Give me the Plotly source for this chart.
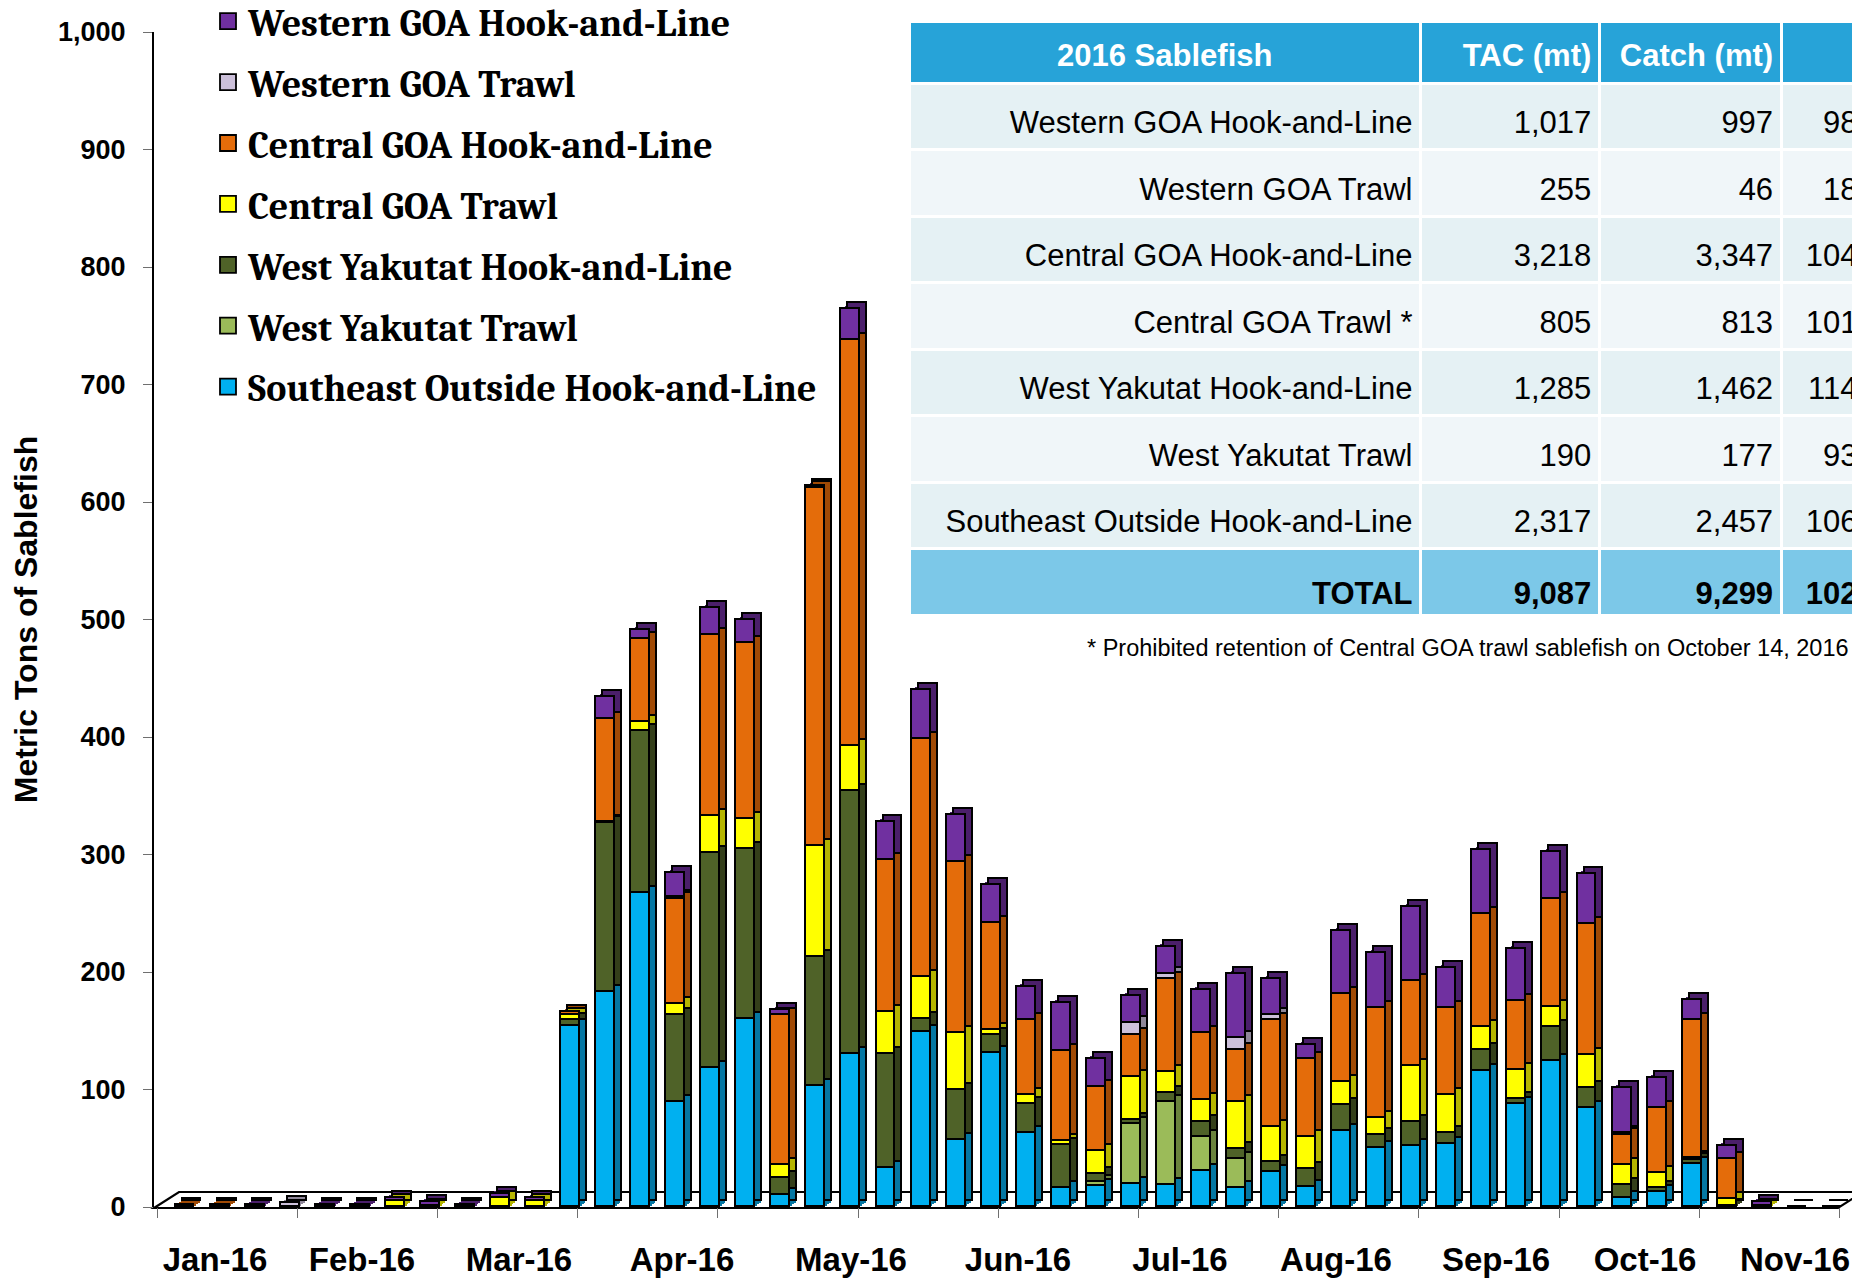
import plotly.graph_objects as go

# ---------------- data ----------------
weeks = list(range(48))  # weekly categories, Jan-16 .. Nov-16
month_labels = ["Jan-16", "Feb-16", "Mar-16", "Apr-16", "May-16", "Jun-16",
                "Jul-16", "Aug-16", "Sep-16", "Oct-16", "Nov-16"]

southeast_hal = [0, 0, 0, 0, 0, 0, 0, 0, 0, 0, 0,
                 154, 183, 267, 89, 118, 160, 10, 103, 130, 33,
                 149, 57, 131, 63, 16, 18, 20, 19, 31, 16,
                 30, 17, 65, 50, 52, 54, 116, 88, 124, 84,
                 8, 13, 37, 0, 0, 0, 0]
west_yakutat_trawl = [0, 0, 0, 0, 0, 0, 0, 0, 0, 0, 0,
                      0, 0, 0, 0, 0, 0, 0, 0, 0, 0,
                      0, 0, 0, 0, 0, 3, 51, 70, 29, 25,
                      0, 0, 0, 0, 0, 0, 0, 0, 0, 0,
                      0, 0, 0, 0, 0, 0, 0]
west_yakutat_hal = [0, 0, 0, 0, 0, 0, 0, 0, 0, 0, 0,
                    5, 144, 138, 74, 183, 145, 15, 110, 224, 97,
                    11, 43, 15, 25, 37, 7, 3, 8, 12, 8,
                    8, 15, 22, 11, 20, 9, 18, 4, 29, 17,
                    11, 3, 3, 1, 0, 0, 0]
central_goa_trawl = [0, 0, 0, 0, 0, 0, 5, 1, 0, 8, 5,
                     4, 1, 8, 10, 32, 25, 11, 94, 38, 36,
                     36, 48, 5, 7, 3, 20, 37, 18, 19, 40,
                     30, 28, 19, 15, 48, 32, 19, 25, 17, 28,
                     17, 13, 2, 6, 1, 0, 0]
central_goa_hal = [2, 2, 0, 0, 0, 0, 0, 0, 0, 0, 0,
                   3, 87, 70, 89, 154, 150, 127, 305, 346, 129,
                   202, 146, 91, 64, 77, 54, 35, 79, 57, 45,
                   91, 66, 75, 93, 72, 74, 96, 58, 92, 112,
                   25, 55, 117, 34, 0, 0, 0]
western_goa_trawl = [0, 0, 0, 3, 0, 0, 0, 0, 0, 0, 0,
                     0, 0, 0, 2, 0, 0, 0, 0, 0, 0,
                     0, 0, 0, 0, 0, 0, 11, 4, 0, 10,
                     4, 0, 0, 0, 0, 0, 0, 0, 0, 0,
                     2, 0, 0, 0, 0, 0, 0]
western_goa_hal = [0, 0, 2, 0, 2, 2, 3, 3, 2, 3, 3,
                   0, 19, 8, 20, 23, 20, 5, 2, 26, 33,
                   42, 40, 32, 28, 41, 24, 23, 23, 37, 54,
                   31, 12, 54, 47, 63, 34, 55, 45, 40, 42,
                   38, 26, 17, 11, 3, 0, 0]

# bottom -> top stacking order
series_names = ["Southeast Outside Hook-and-Line", "West Yakutat Trawl",
                "West Yakutat Hook-and-Line", "Central GOA Trawl",
                "Central GOA Hook-and-Line", "Western GOA Trawl",
                "Western GOA Hook-and-Line"]
series_values = [southeast_hal, west_yakutat_trawl, west_yakutat_hal,
                 central_goa_trawl, central_goa_hal, western_goa_trawl,
                 western_goa_hal]
front_colors = ["#00b0f0", "#9bbb59", "#4f6228", "#ffff00", "#e46c0a", "#ccc0da", "#7030a0"]
side_colors = ["#0577a3", "#6b833d", "#343f1a", "#b5b500", "#a04a05", "#8f8799", "#4b1f6b"]

# table
table_header = ["<b>2016 Sablefish</b>", "<b>TAC (mt)</b>", "<b>Catch (mt)</b>", "<b>%</b>"]
table_fishery = ["Western GOA Hook-and-Line", "Western GOA Trawl", "Central GOA Hook-and-Line",
                 "Central GOA Trawl *", "West Yakutat Hook-and-Line", "West Yakutat Trawl",
                 "Southeast Outside Hook-and-Line", "<b>TOTAL</b>"]
table_tac = ["1,017", "255", "3,218", "805", "1,285", "190", "2,317", "<b>9,087</b>"]
table_catch = ["997", "46", "3,347", "813", "1,462", "177", "2,457", "<b>9,299</b>"]
table_pct = ["98%", "18%", "104%", "101%", "114%", "93%", "106%", "<b>102%</b>"]
footnote = "* Prohibited retention of Central GOA trawl sablefish on October 14, 2016"

# ---------------- geometry ----------------
W, H = 1900, 1284
PX0, PX1 = 154, 1852          # plot area (pixels)
PY_TOP, PY_BOT = 32, 1207
BAR0, STEP = 185, 35.05       # pixel of first week, pixels per week


def xval(px):
    return (px - BAR0) / STEP


xr = [xval(PX0), xval(PX1)]
yr = [0, 1000]
ppu = (PY_BOT - PY_TOP) / (yr[1] - yr[0])
dx = 7 / STEP                 # depth offset of side faces
dy = 6 / ppu
xdom = [PX0 / W, PX1 / W]
ydom = [1 - PY_BOT / H, 1 - PY_TOP / H]

month_tick_pos = [xval(157) + 4 * k for k in range(13)]
label_px = [215, 362, 519, 682, 851, 1018, 1180, 1336, 1496, 1645, 1795]
month_label_pos = [xval(p) for p in label_px]

FONT = "Arial, Liberation Sans, sans-serif"
LEGEND_FONT = "Cambria, Caladea, DejaVu Serif, serif"

fig = go.Figure()

# empty trace so the main (tick-carrying) axes are drawn
fig.add_trace(go.Scatter(x=[], y=[], xaxis="x", yaxis="y", showlegend=False,
                         hoverinfo="skip"))

hidden = dict(visible=False, showgrid=False, zeroline=False, fixedrange=True)
extra_axes = {}

# depth faces: the stack swept back in a few steps, last step outlined
depth_steps = [0.25, 0.5, 0.75, 1.0]
for j, f in enumerate(depth_steps):
    aid = j + 2
    extra_axes["xaxis%d" % aid] = dict(hidden, overlaying="x", domain=xdom,
                                       range=[xr[0] - dx * f, xr[1] - dx * f], anchor="y%d" % aid)
    extra_axes["yaxis%d" % aid] = dict(hidden, overlaying="y", domain=ydom,
                                       range=[yr[0] - dy * f, yr[1] - dy * f], anchor="x%d" % aid)
    lw = 1.6 if f == 1.0 else 0
    for name, vals, col in zip(series_names, series_values, side_colors):
        fig.add_trace(go.Bar(x=weeks, y=vals, name=name, xaxis="x%d" % aid, yaxis="y%d" % aid,
                             marker=dict(color=col, line=dict(color="black", width=lw)),
                             width=0.54, showlegend=False, hoverinfo="skip"))

# front faces
fid = len(depth_steps) + 2
extra_axes["xaxis%d" % fid] = dict(hidden, overlaying="x", domain=xdom, range=xr, anchor="y%d" % fid)
extra_axes["yaxis%d" % fid] = dict(hidden, overlaying="y", domain=ydom, range=yr, anchor="x%d" % fid)
for name, vals, col in zip(series_names, series_values, front_colors):
    fig.add_trace(go.Bar(x=weeks, y=vals, name=name, xaxis="x%d" % fid, yaxis="y%d" % fid,
                         marker=dict(color=col, line=dict(color="black", width=1.6)),
                         width=0.54, legendgroup=name, showlegend=False))
# legend entries (larger square swatches)
n = len(series_names)
for k, (name, col) in enumerate(zip(series_names, front_colors)):
    fig.add_trace(go.Scatter(x=[None], y=[None], mode="markers", name=name,
                             xaxis="x%d" % fid, yaxis="y%d" % fid, legendgroup=name,
                             legendrank=n - k,
                             marker=dict(symbol="square", size=17, color=col,
                                         line=dict(color="black", width=1.8))))

# table: fill layer + text layer (text layer offset for vertical centring)
row_fill = ["#e5f1f4", "#f0f6f9", "#e5f1f4", "#f0f6f9", "#e5f1f4", "#f0f6f9", "#e5f1f4", "#7cc8e8"]
tbl_x = [909 / W, 1894 / W]
colw = [512, 179, 182, 112]
clear = "rgba(0,0,0,0)"
blank_cols = [[""] * len(table_fishery) for _ in table_header]
fig.add_trace(go.Table(
    domain=dict(x=tbl_x, y=[1 - 630 / H, 1 - 21 / H]),
    columnwidth=colw,
    header=dict(values=[""] * len(table_header), fill_color="#27a3d8", height=62,
                font=dict(size=31, family=FONT),
                line=dict(color="white", width=3)),
    cells=dict(values=blank_cols, fill_color=[row_fill] * 4, height=66.5,
               font=dict(size=31, family=FONT),
               line=dict(color="white", width=3)),
))
fig.add_trace(go.Table(
    domain=dict(x=tbl_x, y=[1 - 720 / H, 1 - 30 / H]),
    columnwidth=colw,
    header=dict(values=table_header, fill_color=clear,
                font=dict(color="white", size=31, family=FONT),
                align=["center", "right", "right", "right"], height=72,
                line=dict(color=clear, width=3)),
    cells=dict(values=[table_fishery, table_tac, table_catch, table_pct],
               fill_color=clear,
               font=dict(color="black", size=31, family=FONT),
               align="right", height=66.5,
               line=dict(color=clear, width=3)),
))

# floor of the 3-D chart
fx0, fx1, fdx = PX0, 1838, 25
fy0, fy1 = 1208, 1192
floor_path = "M {},{} L {},{} L {},{} L {},{} Z".format(
    fx0 / W, 1 - fy0 / H, fx1 / W, 1 - fy0 / H,
    (fx1 + fdx) / W, 1 - fy1 / H, (fx0 + fdx) / W, 1 - fy1 / H)
fig.add_shape(type="path", path=floor_path, xref="paper", yref="paper",
              line=dict(color="black", width=2.2), fillcolor="white", layer="below")

fig.add_annotation(text=footnote, x=1851 / W, y=1 - 648 / H, xref="paper", yref="paper",
                   xanchor="right", yanchor="middle", showarrow=False,
                   font=dict(family=FONT, size=23.5, color="black"))

fig.update_layout(
    width=W, height=H,
    margin=dict(l=0, r=0, t=0, b=0, pad=0, autoexpand=False),
    paper_bgcolor="white", plot_bgcolor="rgba(0,0,0,0)",
    barmode="stack", bargap=0,
    font=dict(family=FONT, color="black"),
    xaxis=dict(domain=xdom, range=xr, anchor="y", automargin=False,
               showgrid=False, zeroline=False, showline=False,
               tickvals=month_label_pos, ticktext=month_labels, ticks="",
               ticklabelstandoff=30,
               tickfont=dict(family=FONT, size=33, weight="bold", color="black"),
               minor=dict(tickvals=month_tick_pos, ticks="outside", ticklen=10,
                          tickcolor="#6f6f6f", tickwidth=1.3)),
    yaxis=dict(domain=ydom, range=yr, anchor="x", automargin=False,
               showgrid=False, zeroline=False, showline=True, linecolor="black",
               linewidth=2, ticks="outside", ticklen=9, tickcolor="#6f6f6f",
               tickwidth=1.3, dtick=100, tickformat=",d", ticklabelstandoff=12,
               tickfont=dict(family=FONT, size=27, weight="bold", color="black"),
               title=dict(text="Metric Tons of Sablefish", standoff=11,
                          font=dict(family=FONT, size=32, weight="bold", color="black"))),
    legend=dict(x=208 / W, y=1 + 10 / H, xanchor="left", yanchor="top",
                traceorder="grouped", tracegroupgap=8.5,
                bgcolor="rgba(0,0,0,0)",
                font=dict(family=LEGEND_FONT, size=38, weight="bold", color="black")),
    showlegend=True,
    **extra_axes,
)

post = ("document.documentElement.style.overflow='hidden';"
        "document.body.style.margin='0';document.body.style.overflow='hidden';"
        "var gd=document.getElementById('{plot_id}');"
        "gd.parentElement.style.width='1852px';gd.parentElement.style.overflow='hidden';")
fig.write_html("out.html", post_script=post, config={"displayModeBar": False})
